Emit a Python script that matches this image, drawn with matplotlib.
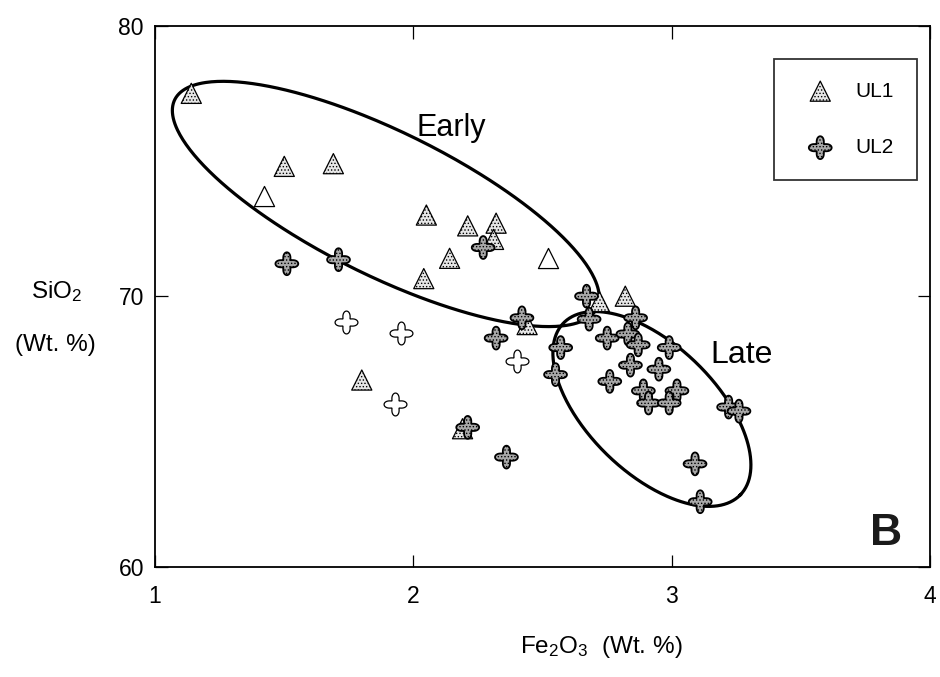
import numpy as np
import matplotlib
matplotlib.use("Agg")
import matplotlib.pyplot as plt
from matplotlib.path import Path

plt.rcParams['font.family'] = ['Liberation Sans', 'DejaVu Sans']
plt.rcParams['mathtext.fontset'] = 'custom'
plt.rcParams['mathtext.rm'] = 'Liberation Sans'
plt.rcParams['mathtext.it'] = 'Liberation Sans:italic'
plt.rcParams['mathtext.bf'] = 'Liberation Sans:bold'
plt.rcParams['hatch.linewidth'] = 0.6

# ---- data: Fe2O3 (x) vs SiO2 (y), wt. % ----
ul1_fe = [1.14, 1.50, 1.69, 2.05, 2.21, 2.32, 2.31, 2.14, 2.04, 2.82, 2.72, 1.80, 2.19, 2.44]
ul1_si = [77.5, 74.8, 74.9, 73.0, 72.6, 72.7, 72.1, 71.4, 70.65, 70.0, 69.8, 66.9, 65.1, 68.95]
ul1_open_fe = [1.42, 2.52]
ul1_open_si = [73.7, 71.4]

ul2_fe = [1.51, 1.71, 2.27, 2.32, 2.36, 2.42, 2.57, 2.55, 2.67, 2.68, 2.86, 2.75, 2.83,
          2.87, 2.99, 2.84, 2.95, 2.76, 2.89, 3.02, 2.91, 2.99, 3.22, 3.26, 3.09, 3.11, 2.21]
ul2_si = [71.2, 71.35, 71.8, 68.45, 64.05, 69.2, 68.1, 67.1, 70.0, 69.15, 69.2, 68.45, 68.6,
          68.2, 68.1, 67.45, 67.3, 66.85, 66.5, 66.5, 66.05, 66.05, 65.9, 65.75, 63.8, 62.4, 65.15]
ul2_open_fe = [1.74, 1.95, 1.93, 2.40]
ul2_open_si = [69.05, 68.65, 66.0, 67.6]

# envelopes: centre and two conjugate semi-axis vectors (data units)
early_center = (1.893, 73.41)
early_axis_a = (0.817, -3.855)
early_axis_b = (-0.123, -2.387)
late_center = (2.923, 65.83)
late_axis_a = (0.342, -3.179)
late_axis_b = (-0.173, -1.694)

x_ticks = [1, 2, 3, 4]
y_ticks = [60, 70, 80]


def envelope(center, va, vb, n=400):
    t = np.linspace(0, 2 * np.pi, n)
    x = center[0] + va[0] * np.cos(t) + vb[0] * np.sin(t)
    y = center[1] + va[1] * np.cos(t) + vb[1] * np.sin(t)
    return x, y


# four-lobed cross symbol
_t = np.linspace(0, 2 * np.pi, 240, endpoint=False)
_r = 0.45 + 0.55 * np.abs(np.cos(2 * _t)) ** 1.6
_v = np.column_stack([_r * np.cos(_t), _r * np.sin(_t)])
_v = np.vstack([_v, _v[:1]])
cross_marker = Path(_v, [Path.MOVETO] + [Path.LINETO] * (len(_v) - 2) + [Path.CLOSEPOLY])

fig = plt.figure(figsize=(9.4, 6.77), dpi=100)
ax = fig.add_axes([0.165, 0.163, 0.8245, 0.799])

for c, a, b in [(early_center, early_axis_a, early_axis_b),
                (late_center, late_axis_a, late_axis_b)]:
    ex, ey = envelope(c, a, b)
    ax.plot(ex, ey, color='black', lw=2.3, zorder=2)

tri = ax.scatter(ul1_fe, ul1_si, marker='^', s=210, facecolor='#e6e6e6',
                 edgecolor='black', linewidths=0.9, hatch='.....', zorder=3, label='UL1')
ax.scatter(ul1_open_fe, ul1_open_si, marker='^', s=210, facecolor='white',
           edgecolor='black', linewidths=0.9, zorder=3)
crs = ax.scatter(ul2_fe, ul2_si, marker=cross_marker, s=270, facecolor='#a8a8a8',
                 edgecolor='black', linewidths=1.3, hatch='.....', zorder=4, label='UL2')
ax.scatter(ul2_open_fe, ul2_open_si, marker=cross_marker, s=270, facecolor='white',
           edgecolor='black', linewidths=0.9, zorder=4)

ax.text(2.013, 75.94, 'Early', fontsize=22, ha='left', va='baseline')
ax.text(3.149, 67.52, 'Late', fontsize=23, ha='left', va='baseline')
ax.text(0.964, 0.024, 'B', transform=ax.transAxes, fontsize=32, fontweight='bold',
        ha='right', va='bottom', color='#1a1a1a')

ax.set_xlim(1, 4)
ax.set_ylim(60, 80)
ax.set_xticks(x_ticks)
ax.set_yticks(y_ticks)
ax.tick_params(direction='in', length=9, width=0.9, top=True, right=True,
               labelsize=16.5)
ax.tick_params(axis='x', pad=13)
ax.tick_params(axis='y', pad=8)
for s in ax.spines.values():
    s.set_linewidth(1.3)

fig.text(57 / 940, 1 - 292 / 677, 'SiO$_2$', fontsize=17.5, ha='center', va='center')
fig.text(55 / 940, 1 - 345 / 677, '(Wt. %)', fontsize=17.5, ha='center', va='center')
fig.text(601 / 940, 1 - 653 / 677, 'Fe$_2$O$_3$  (Wt. %)', fontsize=17.5,
         ha='center', va='baseline')

leg = ax.legend(handles=[tri, crs], loc='upper right', bbox_to_anchor=(0.983, 0.939),
                borderaxespad=0, fontsize=15, frameon=True, fancybox=False,
                edgecolor='black', borderpad=1.1, labelspacing=1.8,
                handlelength=2.2, handletextpad=0.6, scatterpoints=1)
leg.get_frame().set_linewidth(1.3)

fig.savefig('out.png', dpi=100, facecolor='white')
